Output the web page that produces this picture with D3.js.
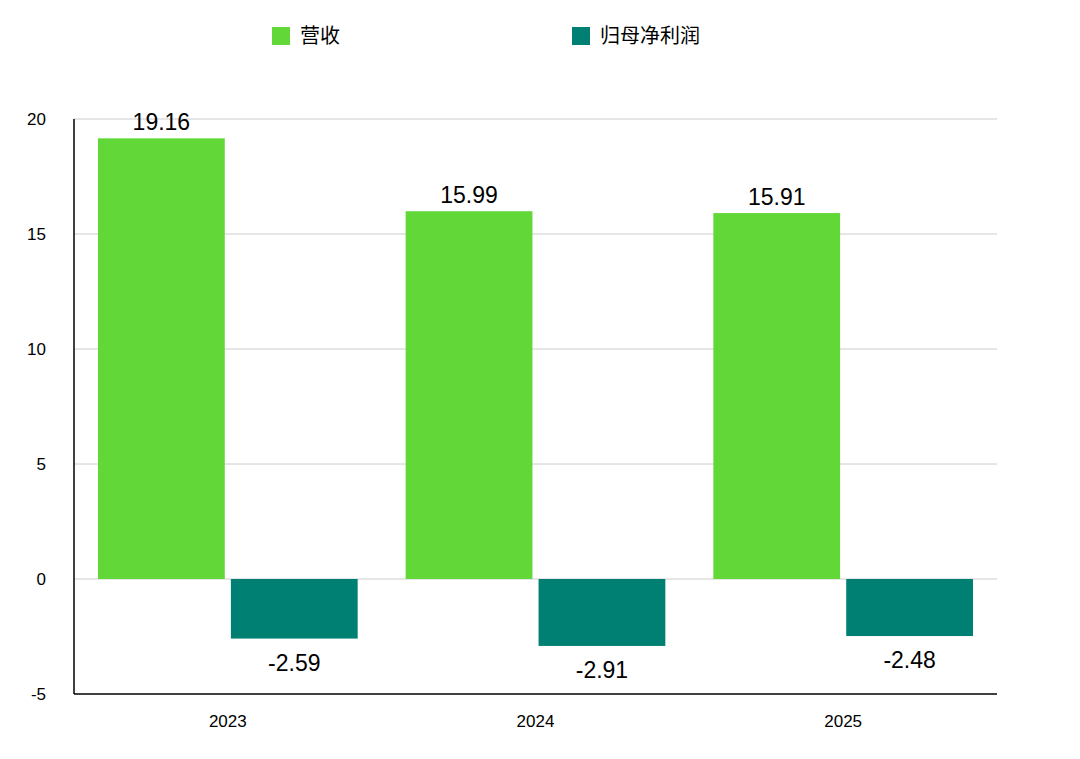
<!DOCTYPE html>
<html>
<head>
<meta charset="utf-8">
<script src="https://d3js.org/d3.v7.min.js"></script>
<style>body{margin:0;background:#fff;font-family:"Noto Sans CJK SC","Liberation Sans",sans-serif;}</style>
</head>
<body>
<div id="chart"></div>
<script>
var years = ["2023", "2024", "2025"];
var seriesNames = ["营收", "归母净利润"];
var revenue = [19.16, 15.99, 15.91];
var netProfit = [-2.59, -2.91, -2.48];
var yTicks = [-5, 0, 5, 10, 15, 20];
var colors = ["#62d838", "#007f73"];

var W = 1080, H = 759;
var svg = d3.select("#chart").append("svg").attr("width", W).attr("height", H);

var x = d3.scaleBand().domain(years).range([74, 997]);
var y = d3.scaleLinear().domain([-5, 20]).range([694, 119]);
var sub = d3.scaleBand().domain([0, 1]).range([24, x.bandwidth() - 24]).paddingInner(0.046);

// grid
svg.selectAll(".grid").data(yTicks.filter(function(t){ return t > -5; })).enter().append("line")
  .attr("x1", 74).attr("x2", 997)
  .attr("y1", function(d){ return y(d); }).attr("y2", function(d){ return y(d); })
  .attr("stroke", "#cccccc").attr("stroke-width", 1);

// axes lines
svg.append("line").attr("x1", 74).attr("x2", 74).attr("y1", 119).attr("y2", 694).attr("stroke", "#000").attr("stroke-width", 1.5);
svg.append("line").attr("x1", 74).attr("x2", 997).attr("y1", 694).attr("y2", 694).attr("stroke", "#000").attr("stroke-width", 1.5);

svg.selectAll(".yt").data(yTicks).enter().append("text")
  .attr("x", 46).attr("y", function(d){ return y(d) + 6; })
  .attr("text-anchor", "end").attr("font-size", 17).attr("font-family", "Liberation Sans, sans-serif")
  .text(function(d){ return d; });

svg.selectAll(".xt").data(years).enter().append("text")
  .attr("x", function(d){ return x(d) + x.bandwidth() / 2; }).attr("y", 727)
  .attr("text-anchor", "middle").attr("font-size", 17).attr("font-family", "Liberation Sans, sans-serif")
  .text(function(d){ return d; });

[revenue, netProfit].forEach(function(vals, si) {
  var g = svg.append("g");
  g.selectAll("rect").data(vals).enter().append("rect")
    .attr("x", function(d, i){ return x(years[i]) + sub(si); })
    .attr("width", sub.bandwidth())
    .attr("y", function(d){ return y(Math.max(0, d)); })
    .attr("height", function(d){ return Math.abs(y(d) - y(0)); })
    .attr("fill", colors[si]);
  g.selectAll("text").data(vals).enter().append("text")
    .attr("x", function(d, i){ return x(years[i]) + sub(si) + sub.bandwidth() / 2; })
    .attr("y", function(d){ return d >= 0 ? y(d) - 8 : y(d) + 32; })
    .attr("text-anchor", "middle").attr("font-size", 23).attr("font-family", "Liberation Sans, sans-serif")
    .text(function(d){ return d.toFixed(2); });
});

// legend
var legX = [272, 572];
seriesNames.forEach(function(n, i) {
  svg.append("rect").attr("x", legX[i]).attr("y", 27).attr("width", 18).attr("height", 18).attr("fill", colors[i]);
  svg.append("text").attr("x", legX[i] + 28).attr("y", 43).attr("font-size", 20).text(n);
});
</script>
</body>
</html>
